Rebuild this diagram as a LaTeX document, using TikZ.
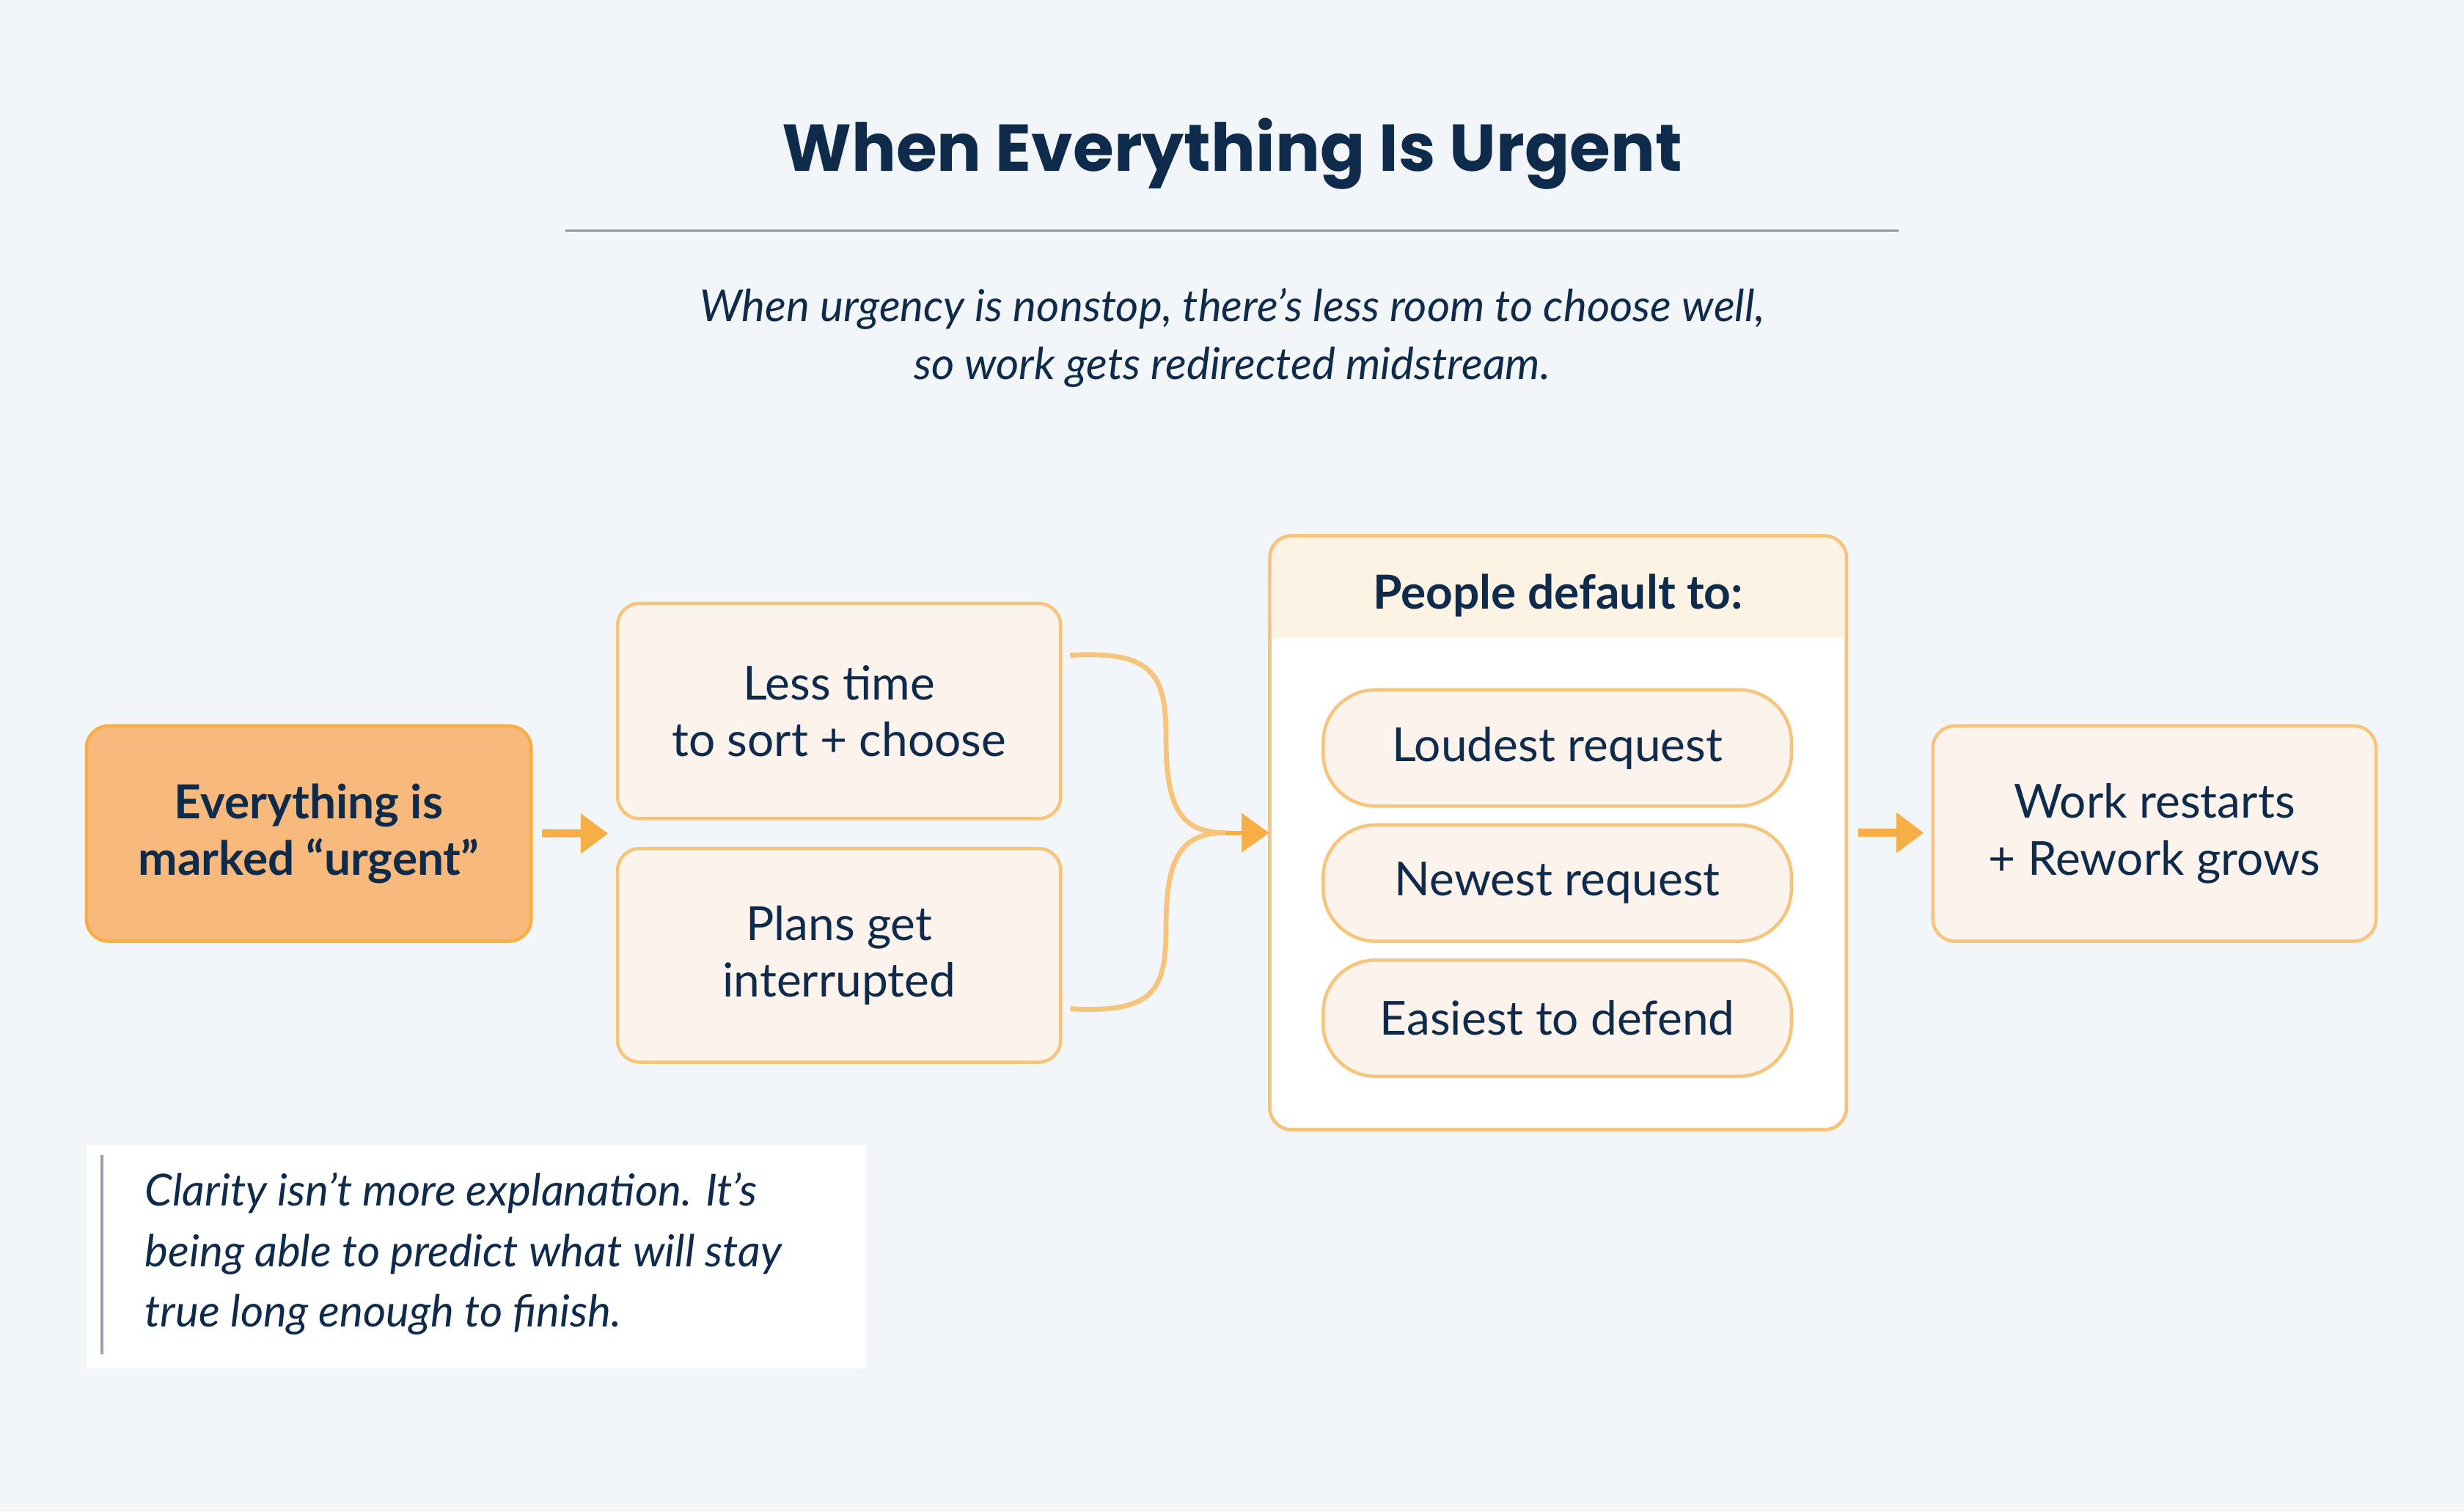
\documentclass[tikz,border=0pt]{standalone}
\usepackage{fontspec}
\setmainfont{Lato}
\newfontfamily\titlef{Poppins}
\usetikzlibrary{arrows.meta}
\definecolor{bg}{HTML}{F3F6F9}
\definecolor{navy}{HTML}{0F2B4C}
\definecolor{org}{HTML}{F6AE45}
\definecolor{orgb}{HTML}{F7C47C}
\definecolor{cream}{HTML}{FBF3EC}
\definecolor{hdr}{HTML}{FDF3E4}
\definecolor{afill}{HTML}{F8BA7C}
\tikzset{
 box/.style={draw=orgb,line width=1.2pt,fill=cream,rounded corners=8pt,text=navy,align=center,font=\fontsize{17}{20.5}\selectfont},
 pill/.style={draw=orgb,line width=1.2pt,fill=cream,rounded corners=19pt,text=navy,font=\fontsize{17}{20}\selectfont,minimum width=298*0.02cm,minimum height=74*0.02cm},
 arr/.style={org,line width=3pt,-{Triangle[length=10pt,width=14pt]}},
 crv/.style={orgb,line width=1.8pt}
}
\begin{document}
\begin{tikzpicture}[x=0.02cm,y=-0.02cm]
\fill[bg] (0,0) rectangle (1568,962);
\useasboundingbox (0,0) rectangle (1568,962);
\node[text=navy,font=\titlef\bfseries\fontsize{24}{28}\selectfont] (title) at (784,98) {When Everything Is Urgent};
\draw[color={rgb,255:red,138;green,154;blue,170},line width=0.8pt] (360,147) coordinate (l1) -- (1208,147) coordinate (l2);
\node[text=navy,align=center,font=\itshape\fontsize{16}{21}\selectfont] (sub) at (784,215) {When urgency is nonstop, there’s less room to choose well,\\so work gets redirected midstream.};
\node[box,fill=afill,draw=org,minimum width=283*0.02cm,minimum height=137*0.02cm,font=\bfseries\fontsize{17}{20.5}\selectfont] (a) at (196.5,530.5) {Everything is\\marked “urgent”};
\node[box,minimum width=282*0.02cm,minimum height=137*0.02cm] (b1) at (534,452.5) {Less time\\to sort + choose};
\node[box,minimum width=282*0.02cm,minimum height=136*0.02cm] (b2) at (534,608) {Plans get\\interrupted};
\draw[box,fill=white,rounded corners=8pt] (808,341) rectangle (1175,719);
\begin{scope}
\clip[rounded corners=8pt] (808,341) rectangle (1175,719);
\fill[hdr] (808,341) rectangle (1175,406);
\end{scope}
\draw[orgb,line width=1.2pt,rounded corners=8pt] (808,341) rectangle (1175,719);
\node[minimum width=367*0.02cm,minimum height=378*0.02cm] (c) at (991.5,530) {};
\node[text=navy,font=\bfseries\fontsize{17}{20}\selectfont] (ch) at (991.5,379) {People default to:};
\node[pill] (p1) at (991,476) {Loudest request};
\node[pill] (p2) at (991,562) {Newest request};
\node[pill] (p3) at (991,648) {Easiest to defend};
\node[box,minimum width=282*0.02cm,minimum height=137*0.02cm] (d) at (1371,530.5) {Work restarts\\+ Rework grows};
\draw[arr] (a.east)++(6,0) coordinate (a1) -- ++(42,0) coordinate (a2);
\draw[arr] (c.east)++(7,0) coordinate (c1) -- ++(42,0) coordinate (c2);
\coordinate (m) at (780,530);
\coordinate (s1) at (681,417);
\coordinate (s2) at (681,642);
\draw[crv] (s1) .. controls (735,414) and (742,430) .. (742,470) .. controls (742,515) and (752,530) .. (m);
\draw[crv] (s2) .. controls (735,645) and (742,630) .. (742,590) .. controls (742,545) and (752,530) .. (m);
\draw[arr,line width=1.5pt] (m) -- (c.west);
\fill[white] (55,729) rectangle (551,871);
\draw[color={rgb,255:red,150;green,160;blue,175},line width=1pt] (65,735) coordinate (q1) -- (65,862) coordinate (q2);
\node[anchor=north west,text=navy,align=left,font=\itshape\fontsize{16}{22}\selectfont] (q) at (86,740) {Clarity isn’t more explanation. It’s\\being able to predict what will stay\\true long enough to finish.};
\end{tikzpicture}
\end{document}
